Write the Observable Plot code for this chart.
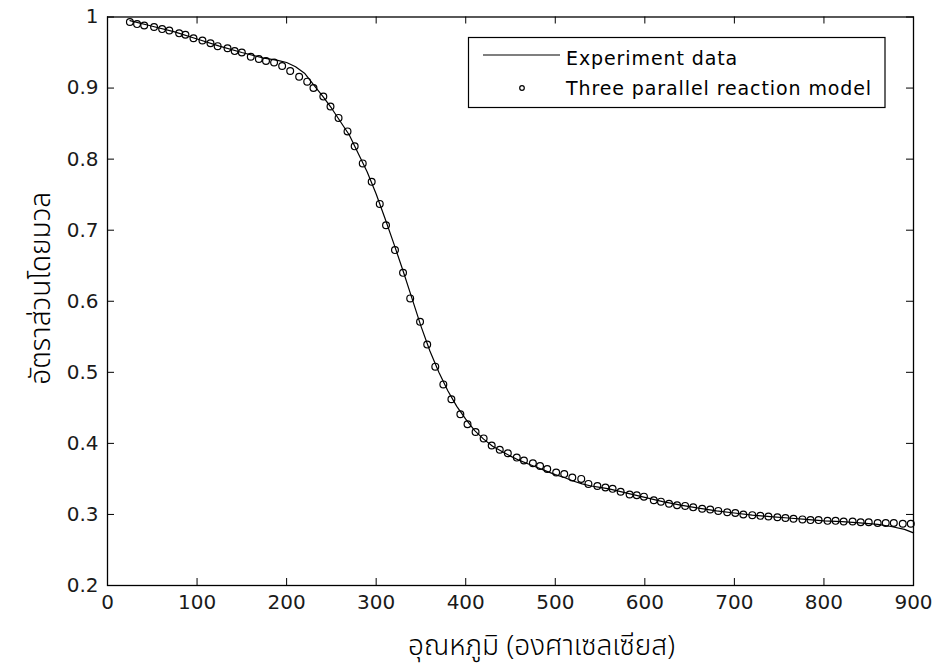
<!DOCTYPE html>
<html>
<head>
<meta charset="utf-8">
<script src="https://cdn.jsdelivr.net/npm/d3@7"></script>
<script src="https://cdn.jsdelivr.net/npm/@observablehq/plot@0.6"></script>
<style>
  html, body { margin: 0; padding: 0; background: #fff; }
  #chart { position: relative; width: 935px; height: 669px; }
</style>
</head>
<body>
<div id="chart"></div>
<script>
// ---- Data ----
const xTicks = [0, 100, 200, 300, 400, 500, 600, 700, 800, 900];
const yTicks = [0.2, 0.3, 0.4, 0.5, 0.6, 0.7, 0.8, 0.9, 1];

const xLabel = "อุณหภูมิ (องศาเซลเซียส)";
const yLabel = "อัตราส่วนโดยมวล";
const seriesNames = ["Experiment data", "Three parallel reaction model"];

// Experiment data (solid line)
const expT = [25, 50, 75, 100, 125, 150, 175, 190, 200, 210, 220, 230, 240, 250, 260, 270, 280, 290, 300, 310,
  320, 330, 340, 350, 360, 370, 380, 390, 400, 410, 420, 430, 440, 450, 460, 470, 480, 490, 500, 510,
  520, 530, 540, 550, 560, 580, 600, 620, 640, 660, 680, 700, 720, 740, 760, 780, 800, 820, 840, 860,
  875, 890, 900];
const expY = [0.995, 0.987, 0.979, 0.969, 0.959, 0.950, 0.942, 0.939, 0.936, 0.930, 0.921, 0.905, 0.889, 0.872, 0.853, 0.834, 0.808, 0.782, 0.751, 0.716,
  0.680, 0.643, 0.604, 0.565, 0.530, 0.500, 0.474, 0.452, 0.434, 0.418, 0.406, 0.396, 0.389, 0.382, 0.376, 0.371, 0.366, 0.361, 0.356, 0.352,
  0.347, 0.343, 0.340, 0.338, 0.336, 0.330, 0.324, 0.318, 0.313, 0.309, 0.305, 0.302, 0.299, 0.297, 0.295, 0.293, 0.291, 0.290, 0.288, 0.286,
  0.283, 0.279, 0.274];

// Three parallel reaction model (open circles)
const modelT = [25, 33, 41, 52, 61, 69, 80, 87, 96, 106, 115, 123, 134, 142, 150, 160, 169, 177, 186, 195,
  204, 214, 223, 230, 241, 249, 258, 268, 276, 285, 295, 304, 311, 321, 330, 338, 349, 357, 366, 375,
  384, 394, 402, 411, 420, 429, 438, 447, 457, 465, 475, 483, 491, 501, 510, 519, 529, 537, 547, 556,
  564, 573, 583, 591, 599, 610, 618, 627, 636, 645, 654, 664, 673, 682, 692, 701, 710, 720, 729, 738,
  748, 757, 766, 776, 785, 794, 804, 813, 822, 832, 841, 850, 860, 869, 878, 888, 897];
const modelY = [0.993, 0.990, 0.988, 0.986, 0.983, 0.981, 0.977, 0.975, 0.970, 0.967, 0.963, 0.959, 0.956, 0.952, 0.950, 0.944, 0.941, 0.938, 0.936, 0.931,
  0.924, 0.916, 0.909, 0.900, 0.888, 0.874, 0.858, 0.839, 0.818, 0.794, 0.768, 0.737, 0.707, 0.672, 0.640, 0.604, 0.571, 0.539, 0.508, 0.483,
  0.462, 0.441, 0.427, 0.416, 0.407, 0.397, 0.391, 0.386, 0.380, 0.376, 0.372, 0.368, 0.364, 0.359, 0.357, 0.352, 0.350, 0.343, 0.340, 0.338,
  0.336, 0.332, 0.328, 0.327, 0.325, 0.320, 0.318, 0.315, 0.313, 0.312, 0.310, 0.308, 0.307, 0.305, 0.303, 0.302, 0.300, 0.299, 0.298, 0.297,
  0.296, 0.295, 0.294, 0.293, 0.292, 0.292, 0.291, 0.291, 0.290, 0.290, 0.289, 0.289, 0.288, 0.288, 0.288, 0.287, 0.287];

const expData = expT.map((t, i) => ({t, v: expY[i]}));
const modelData = modelT.map((t, i) => ({t, v: modelY[i]}));

// ---- Layout ----
const W = 935, H = 669;
const mL = 107, mR = 22, mT = 16.5, mB = 84;
const frameW = W - mL - mR, frameH = H - mT - mB;
const tickLen = 7;
const fontTick = "DejaVu Sans, Liberation Sans, sans-serif";
const fontThai = "'Noto Sans Thai', 'Noto Sans Thai UI', Loma, Garuda, 'Tlwg Typo', Kinnari, 'Noto Sans', sans-serif";

const chart = Plot.plot({
  width: W, height: H,
  marginLeft: mL, marginRight: mR, marginTop: mT, marginBottom: mB,
  x: {domain: [0, 900]},
  y: {domain: [0.2, 1]},
  style: {fontFamily: fontTick, fontSize: "20px", color: "#000", background: "#fff"},
  marks: [
    Plot.line(expData, {x: "t", y: "v", stroke: "#000", strokeWidth: 1.2}),
    Plot.dot(modelData, {x: "t", y: "v", r: 3.4, stroke: "#000", fill: "none", strokeWidth: 1.2}),
    // inward tick marks on all four sides
    Plot.tickX(xTicks, {x: d => d, insetTop: frameH - tickLen, stroke: "#000"}),
    Plot.tickX(xTicks, {x: d => d, insetBottom: frameH - tickLen, stroke: "#000"}),
    Plot.tickY(yTicks, {y: d => d, insetRight: frameW - tickLen, stroke: "#000"}),
    Plot.tickY(yTicks, {y: d => d, insetLeft: frameW - tickLen, stroke: "#000"}),
    Plot.frame({stroke: "#000", strokeWidth: 1.3}),
    Plot.axisX(xTicks, {tickSize: 0, tickPadding: 9, tickFormat: d => String(d), fontSize: 20, fill: "#1a1a1a", label: null}),
    Plot.axisY(yTicks, {tickSize: 0, tickPadding: 9, tickFormat: d => String(+d.toFixed(1)), fontSize: 20, fill: "#1a1a1a", label: null}),
    Plot.text([xLabel], {text: d => d, frameAnchor: "bottom", textAnchor: "middle", dx: 31, dy: 69, fontSize: 28, fontWeight: 300, fontFamily: fontThai, fill: "#000"}),
    Plot.text([yLabel], {text: d => d, frameAnchor: "left", textAnchor: "middle", rotate: -90, dx: -66, dy: -13, fontSize: 28, fontWeight: 300, fontFamily: fontThai, fill: "#000"})
  ]
});

document.getElementById("chart").appendChild(chart);

// ---- Legend (inside the axes, top right) ----
const svg = d3.select(chart);
const lg = svg.append("g").attr("font-family", fontTick).attr("font-size", 19).attr("fill", "#000");
lg.append("rect").attr("x", 468.5).attr("y", 37.5).attr("width", 416.5).attr("height", 70)
  .attr("fill", "#fff").attr("stroke", "#000").attr("stroke-width", 1.2);
lg.append("line").attr("x1", 483).attr("x2", 560).attr("y1", 55).attr("y2", 55)
  .attr("stroke", "#000").attr("stroke-width", 1.2);
lg.append("circle").attr("cx", 522).attr("cy", 88).attr("r", 2.3)
  .attr("fill", "none").attr("stroke", "#000").attr("stroke-width", 1.2);
lg.append("text").attr("x", 566).attr("y", 65).attr("text-anchor", "start").attr("letter-spacing", 0.9).text(seriesNames[0]);
lg.append("text").attr("x", 566).attr("y", 95).attr("text-anchor", "start").attr("letter-spacing", 0.9).text(seriesNames[1]);
</script>
</body>
</html>
